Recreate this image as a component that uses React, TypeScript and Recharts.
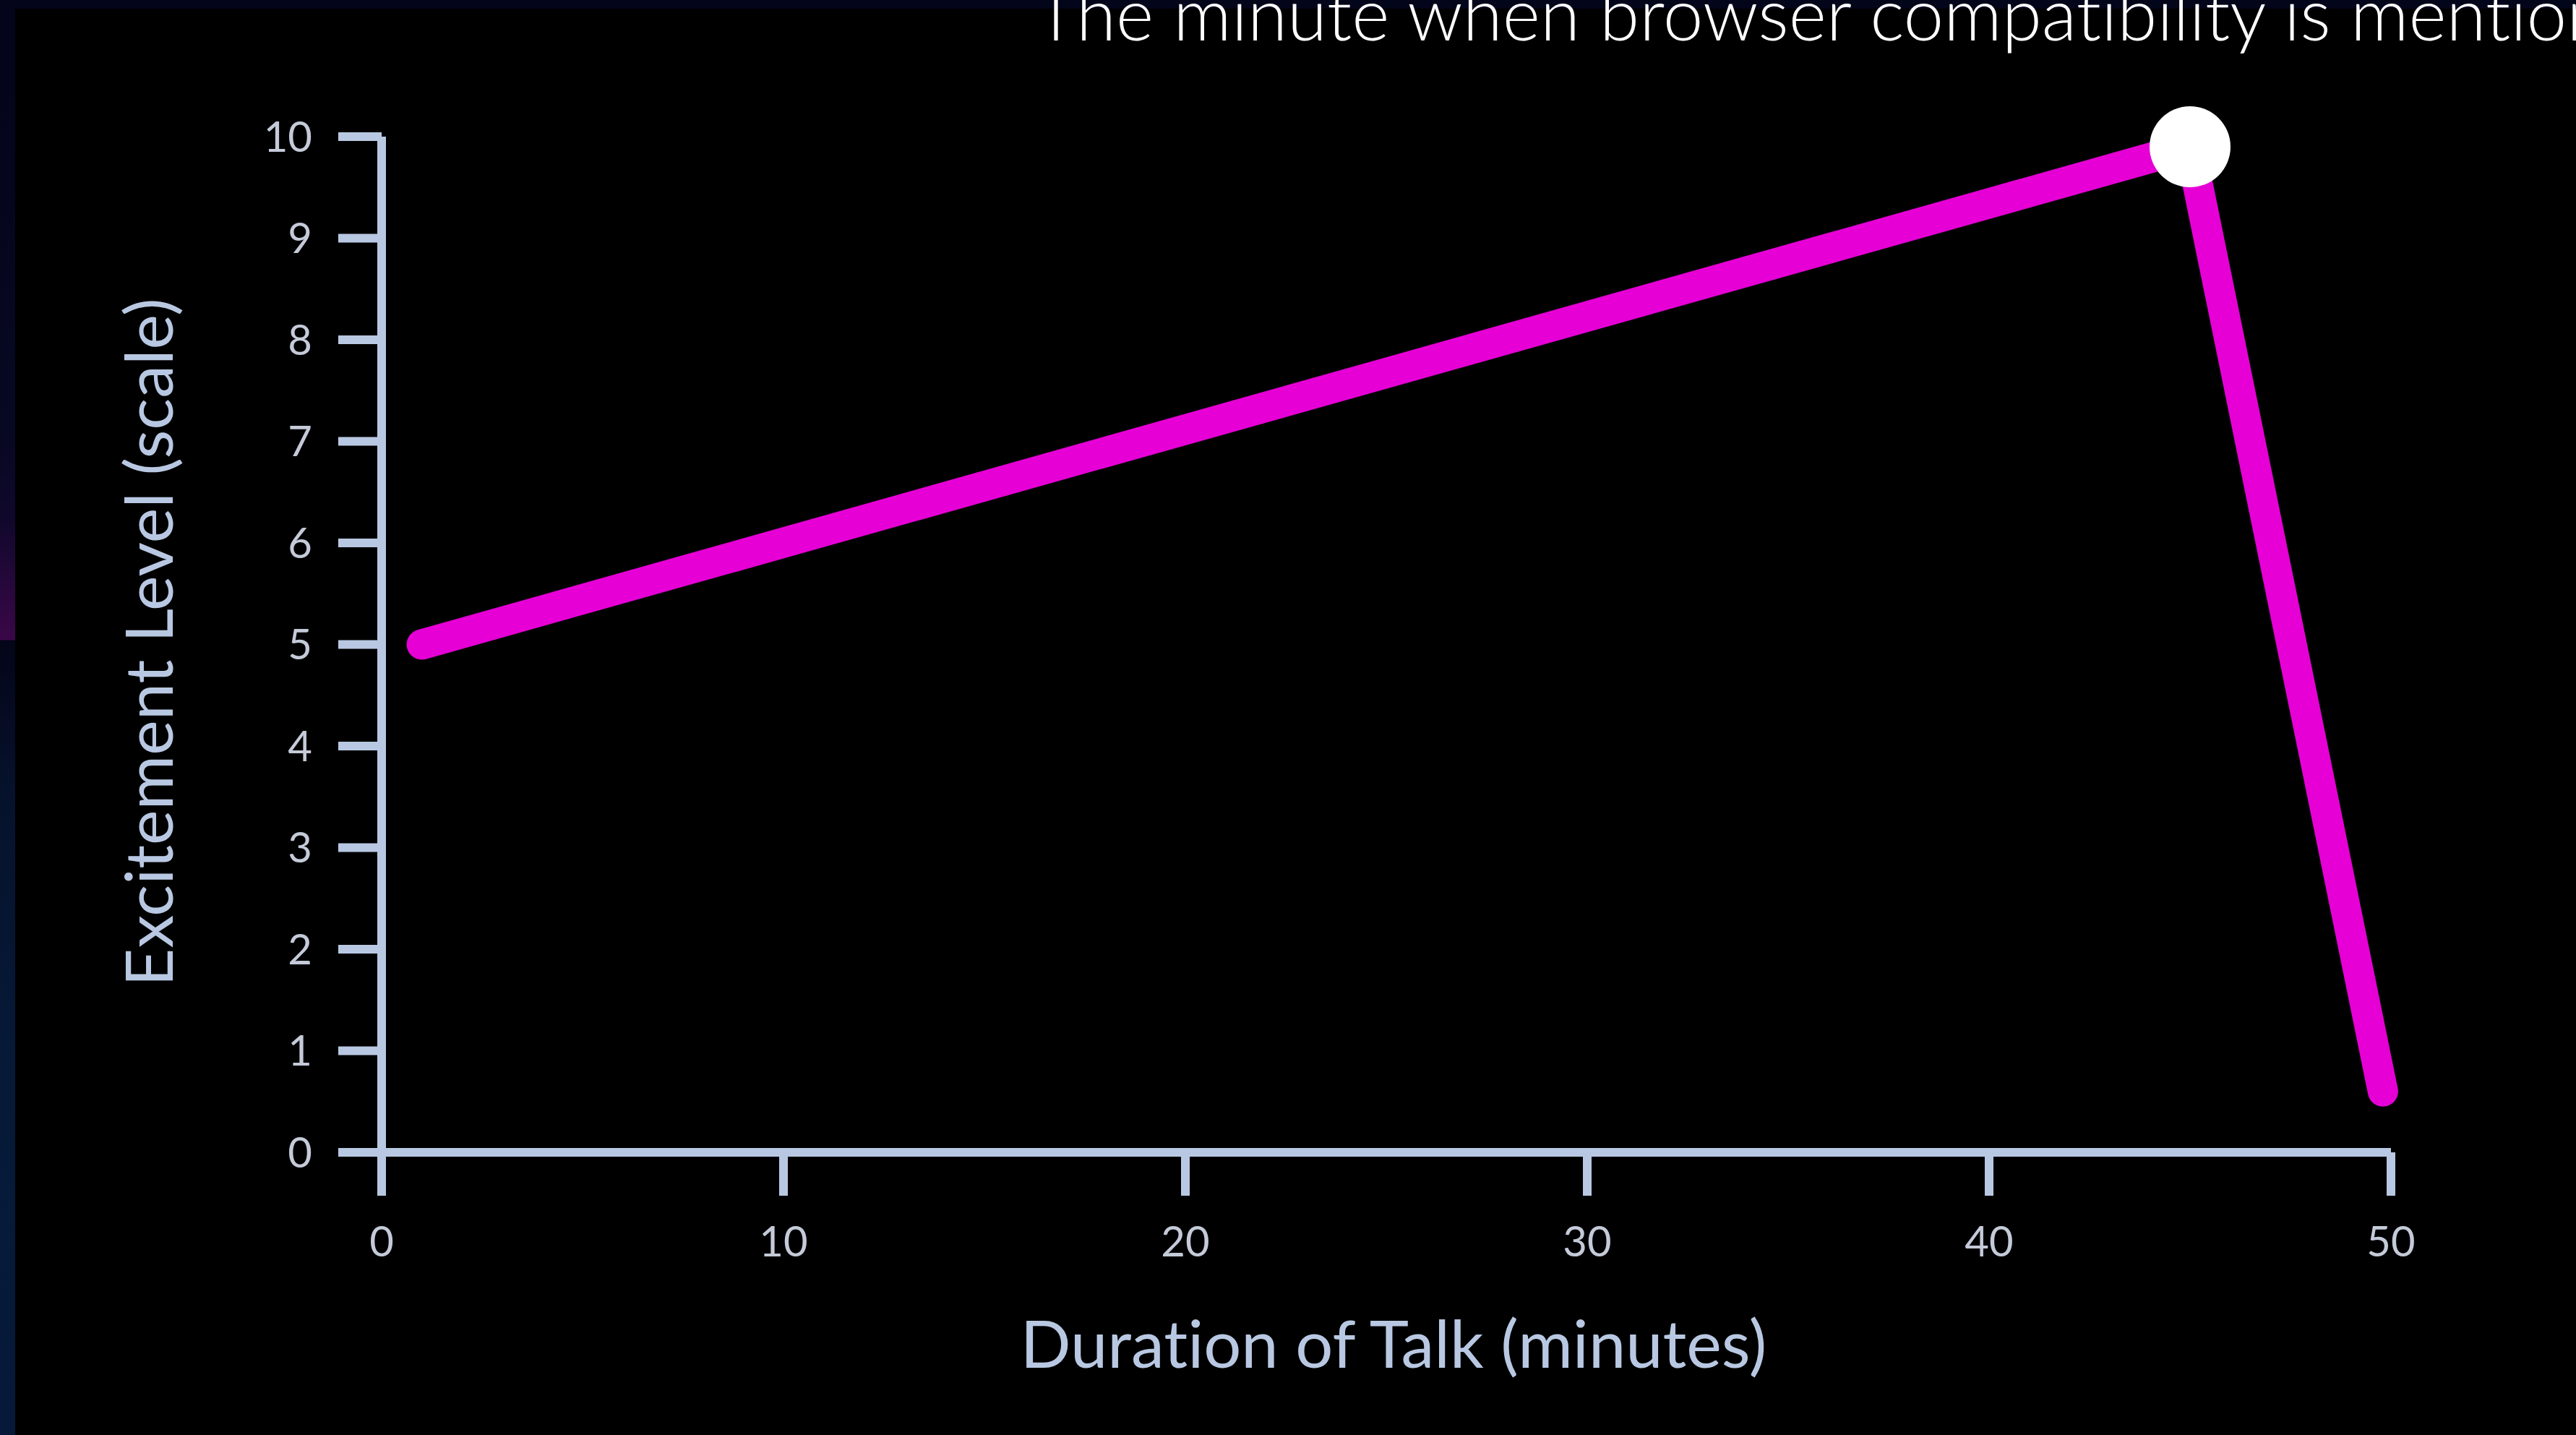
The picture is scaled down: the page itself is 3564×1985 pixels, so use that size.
import { Line, LineChart, XAxis, YAxis } from "recharts";

// talk minutes vs excitement
const minutes = [1, 45, 49.8];
const excitement = [5, 9.9, 0.6];
const xTicks = [0, 10, 20, 30, 40, 50];
const yTicks = [0, 1, 2, 3, 4, 5, 6, 7, 8, 9, 10];

const xTitle = "Duration of Talk (minutes)";
const yTitle = "Excitement Level (scale)";
const peakNote = "The minute when browser compatibility is mentioned";

const W = 3564;
const H = 1985;
const axisColor = "#b9c8e2";
const tickColor = "#c4cad8";
const lineColor = "#e600d6";
const font = "Lato, 'Noto Sans', sans-serif";
const noLig = { fontVariantLigatures: "none" as const };

const data = minutes.map((m, i) => ({ minute: m, excitement: excitement[i] }));
const peakIndex = excitement.indexOf(Math.max(...excitement));

const renderDot = (props: any) => {
  const { cx, cy, index } = props;
  if (index !== peakIndex) return <g key={`dot-${index}`} />;
  return (
    <g key={`dot-${index}`}>
      <circle cx={cx} cy={cy} r={56} fill="#ffffff" />
      <text x={cx - 1598} y={cy - 147} fill="#ffffff" fontSize={100} fontWeight={300} fontFamily={font} style={noLig}>
        {peakNote}
      </text>
    </g>
  );
};

const renderXTitle = (props: any) => {
  const vb = props.viewBox;
  return (
    <text x={vb.x + vb.width / 2 + 10} y={vb.y + 298} textAnchor="middle" fill={axisColor} fontSize={92} fontFamily={font} style={noLig}>
      {xTitle}
    </text>
  );
};

const renderYTitle = (props: any) => {
  const vb = props.viewBox;
  const x = vb.x + 11;
  const y = vb.y + vb.height / 2 - 3;
  return (
    <text x={x} y={y} transform={`rotate(-90 ${x} ${y})`} textAnchor="middle" fill={axisColor} fontSize={92} fontFamily={font} style={noLig}>
      {yTitle}
    </text>
  );
};

export default function App() {
  return (
    <div style={{ position: "relative", width: W, height: H, background: "#000", overflow: "hidden", fontFamily: font }}>
      <style>{`body{margin:0;background:#000}`}</style>
      <div style={{ position: "absolute", left: 0, top: 0, width: W, height: 12, background: "#03051a" }} />
      <div
        style={{
          position: "absolute",
          left: 0,
          top: 0,
          width: 21,
          height: H,
          background:
            "linear-gradient(180deg, #04051a 0px, #070822 600px, #10082c 720px, #3a0748 885px, #040519 886px, #06122c 1100px, #061a38 1500px, #06193a 1985px)",
        }}
      />
      <div style={{ position: "absolute", left: 0, top: 0 }}>
        <LineChart width={W} height={H} data={data} margin={{ top: 189, right: 256, bottom: 91, left: 228 }}>
          <XAxis
            type="number"
            dataKey="minute"
            domain={[0, 50]}
            ticks={xTicks}
            height={300}
            tickSize={60}
            tickMargin={43}
            axisLine={{ stroke: axisColor, strokeWidth: 12 }}
            tickLine={{ stroke: axisColor, strokeWidth: 12 }}
            tick={{ fill: tickColor, fontSize: 58, fontFamily: font }}
            label={{ content: renderXTitle }}
          />
          <YAxis
            type="number"
            domain={[0, 10]}
            ticks={yTicks}
            width={300}
            tickSize={60}
            tickMargin={36}
            axisLine={{ stroke: axisColor, strokeWidth: 12 }}
            tickLine={{ stroke: axisColor, strokeWidth: 12 }}
            tick={{ fill: tickColor, fontSize: 58, fontFamily: font }}
            label={{ content: renderYTitle }}
          />
          <Line
            type="linear"
            dataKey="excitement"
            stroke={lineColor}
            strokeWidth={42}
            strokeLinecap="round"
            strokeLinejoin="round"
            dot={renderDot}
            activeDot={false}
            isAnimationActive={false}
          />
        </LineChart>
      </div>
    </div>
  );
}
